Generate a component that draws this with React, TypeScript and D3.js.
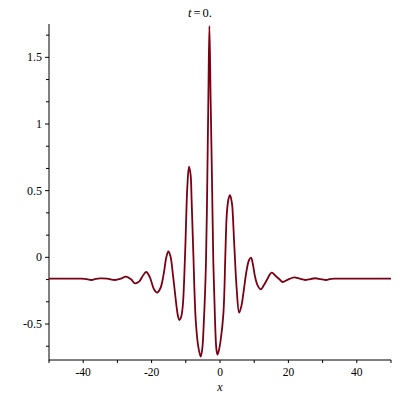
import React from 'react';
import * as d3 from 'd3';

// curve samples (x, u)
const xs = [
  -50, -42, -39.5, -37.6, -36.3, -35.1, -33, -30.7, -29, -27.5, -26, -24.9, -23.6, -22.6,
  -21.6, -20.5, -19.3, -18.4, -17.4, -16.5, -15.7, -15.1, -14.5, -13.7, -12.7, -12.3, -11.9,
  -11.4, -10.9, -10.2, -9.55, -9.07, -8.6, -8.3, -7.8, -7.1, -6.35, -5.65, -5.2, -4.7, -4.1,
  -3.7, -3.4, -3.1, -2.75, -2.35, -1.95, -1.46, -1.05, -0.75, -0.35, 0.2, 1.0, 1.6, 2.0, 2.5,
  2.93, 3.4, 3.6, 4.2, 4.9, 5.6, 6.3, 6.83, 7.8, 8.5, 9.07, 9.6, 10.24, 11, 11.9, 12.8, 13.7,
  15.1, 16.3, 17.6, 18.3, 20, 21.7, 23.3, 24.9, 26.4, 27.8, 29.4, 31, 32.5, 35, 50,
];
const ys = [
  -0.16, -0.16, -0.161, -0.17, -0.162, -0.158, -0.16, -0.17, -0.16, -0.145, -0.165, -0.195,
  -0.18, -0.14, -0.11, -0.15, -0.24, -0.265, -0.23, -0.13, 0.0, 0.045, 0.01, -0.145, -0.37,
  -0.44, -0.47, -0.45, -0.37, 0.03, 0.53, 0.68, 0.62, 0.43, 0.03, -0.47, -0.67, -0.745, -0.69,
  -0.47, -0.04, 0.6, 1.2, 1.735, 1.2, 0.6, -0.04, -0.47, -0.69, -0.73, -0.7, -0.62, -0.42,
  0.05, 0.33, 0.44, 0.467, 0.42, 0.38, 0.08, -0.245, -0.415, -0.36, -0.27, -0.095, -0.02,
  -0.003, -0.05, -0.145, -0.21, -0.24, -0.21, -0.17, -0.115, -0.14, -0.17, -0.185, -0.165,
  -0.15, -0.16, -0.17, -0.163, -0.157, -0.163, -0.17, -0.161, -0.16, -0.16,
];

const xTickLabels = [-40, -20, 0, 20, 40];
const xTicks = [-50, -40, -30, -20, -10, 0, 10, 20, 30, 40, 50];
const yTickLabels = [-0.5, 0, 0.5, 1, 1.5];
const yMinorTicks = [-4, -2, -1, 1, 2, 4, 5, 7, 8, 10].map((k) => k / 6);

const title = '0.';

export default function App() {
  const x = d3.scaleLinear().domain([-50, 50]).range([49, 391]);
  const y = d3.scaleLinear().domain([-0.77, 1.75]).range([360, 24]);

  const points: [number, number][] = xs.map((v, i) => [v, ys[i]]);
  const line = d3
    .line<[number, number]>()
    .x((d) => x(d[0]))
    .y((d) => y(d[1]))
    .curve(d3.curveCatmullRom.alpha(0.5));

  const font = '"Liberation Serif", "Times New Roman", serif';
  const x0 = x(-50);
  const yBottom = y(-0.77);

  return (
    <svg
      width={400}
      height={400}
      style={{ position: 'absolute', left: 0, top: 0, display: 'block', background: '#fff' }}
      fontFamily={font}
    >
      {/* title */}
      <text x={200} y={17} textAnchor="middle" fontSize={12.5} fill="#000">
        <tspan fontStyle="italic">t</tspan>
        <tspan dx={2}>=</tspan>
        <tspan dx={2}>{title}</tspan>
      </text>

      {/* axes */}
      <line x1={x0} x2={x0} y1={y(1.75)} y2={yBottom + 0.5} stroke="#000" strokeWidth={1} />
      <line x1={x0} x2={x(50)} y1={yBottom} y2={yBottom} stroke="#000" strokeWidth={1} />

      {xTicks.map((t) => (
        <line key={'xt' + t} x1={x(t)} x2={x(t)} y1={yBottom} y2={yBottom + 3} stroke="#000" />
      ))}
      {xTickLabels.map((t) => (
        <text key={'xl' + t} x={x(t)} y={376} textAnchor="middle" fontSize={11.5} fill="#000">
          {t < 0 ? '-' + Math.abs(t) : t}
        </text>
      ))}
      <text x={x(0)} y={391} textAnchor="middle" fontSize={12} fontStyle="italic" fill="#000">
        x
      </text>

      {yTickLabels.map((t) => (
        <g key={'yl' + t}>
          <line x1={x0 - 4} x2={x0} y1={y(t)} y2={y(t)} stroke="#000" />
          <text x={42} y={y(t) + 4} textAnchor="end" fontSize={12} fill="#000">
            {t < 0 ? '-' + Math.abs(t) : t}
          </text>
        </g>
      ))}
      {yMinorTicks.map((t, i) => (
        <line key={'ym' + i} x1={x0 - 3} x2={x0} y1={y(t)} y2={y(t)} stroke="#000" />
      ))}

      {/* curve */}
      <path d={line(points) ?? ''} fill="none" stroke="#7a0014" strokeWidth={1.8} />
    </svg>
  );
}
